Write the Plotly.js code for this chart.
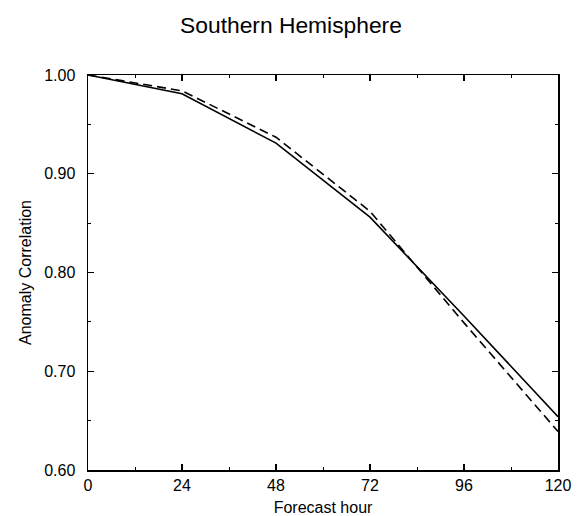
<!DOCTYPE html>
<html>
<head>
<meta charset="utf-8">
<script src="https://cdn.plot.ly/plotly-3.0.1.min.js"></script>
<style>html,body{margin:0;padding:0;background:#fff}#chart{width:582px;height:516px}</style>
</head>
<body>
<div id="chart"></div>
<script>
const hours = [0, 24, 48, 72, 96, 120];
const solidSeries = [1.000, 0.981, 0.931, 0.856, 0.756, 0.654];
const dashedSeries = [1.000, 0.984, 0.937, 0.862, 0.749, 0.639];
const xTickVals = [0, 24, 48, 72, 96, 120];
const yTickVals = [0.6, 0.7, 0.8, 0.9, 1.0];
const yTickText = ["0.60", "0.70", "0.80", "0.90", "1.00"];

const FONT = "Liberation Sans, Arial, Helvetica, sans-serif";

const traces = [
  {x: hours, y: solidSeries, mode: "lines", line: {color: "#000", width: 1.6}, showlegend: false, hoverinfo: "skip"},
  {x: hours, y: dashedSeries, mode: "lines", line: {color: "#000", width: 1.6, dash: "9px,5px"}, showlegend: false, hoverinfo: "skip"}
];

const axisCommon = {
  showgrid: false, zeroline: false,
  showline: true, linecolor: "#000", linewidth: 1.5, mirror: "allticks",
  ticks: "inside", ticklen: 6, tickwidth: 1.2, tickcolor: "#000",
  tickfont: {family: FONT, size: 16, color: "#000"},
  automargin: false
};

const layout = {
  width: 582, height: 516,
  margin: {l: 88, r: 24, t: 75, b: 46},
  paper_bgcolor: "#fff", plot_bgcolor: "#fff",
  font: {family: FONT, color: "#000"},
  title: {text: "Southern Hemisphere", font: {family: FONT, size: 22.8, color: "#000"},
          x: 0.5, xref: "container", xanchor: "center", y: 1 - 25/516, yref: "container", yanchor: "middle"},
  xaxis: Object.assign({}, axisCommon, {
    range: [0, 120], tickmode: "array", tickvals: xTickVals,
    minor: {ticks: "inside", ticklen: 3, dtick: 12, tick0: 0, tickwidth: 1, tickcolor: "#000", showgrid: false},
    title: {text: "Forecast hour", font: {family: FONT, size: 16, color: "#000"}, standoff: 12}
  }),
  yaxis: Object.assign({}, axisCommon, {
    range: [0.6, 1.0], tickmode: "array", tickvals: yTickVals, ticktext: yTickText,
    ticklabelstandoff: 8,
    minor: {ticks: "inside", ticklen: 3, dtick: 0.05, tick0: 0.6, tickwidth: 1, tickcolor: "#000", showgrid: false},
    title: {text: "Anomaly Correlation", font: {family: FONT, size: 16, color: "#000"}, standoff: 8}
  })
};

Plotly.newPlot("chart", traces, layout, {staticPlot: true, displayModeBar: false});
</script>
</body>
</html>
